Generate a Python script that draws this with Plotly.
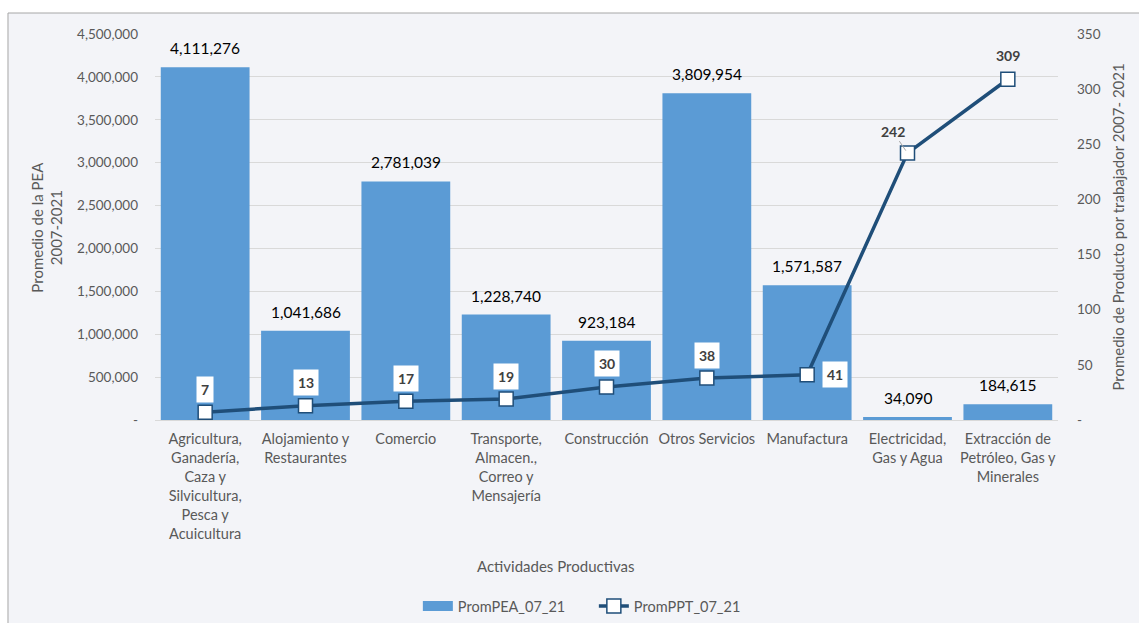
import plotly.graph_objects as go

# Activities and their averages 2007-2021
categorias = [
    "Agricultura", "Alojamiento", "Comercio", "Transporte", "Construcción",
    "Otros Servicios", "Manufactura", "Electricidad", "Extracción",
]
etiquetas_x = [
    "Agricultura,<br>Ganadería,<br>Caza y<br>Silvicultura,<br>Pesca y<br>Acuicultura",
    "Alojamiento y<br>Restaurantes",
    "Comercio",
    "Transporte,<br>Almacen.,<br>Correo y<br>Mensajería",
    "Construcción",
    "Otros Servicios",
    "Manufactura",
    "Electricidad,<br>Gas y Agua",
    "Extracción de<br>Petróleo, Gas y<br>Minerales",
]
prom_pea = [4111276, 1041686, 2781039, 1228740, 923184, 3809954, 1571587, 34090, 184615]
prom_ppt = [7, 13, 17, 19, 30, 38, 41, 242, 309]

ticks_pea = [0, 500000, 1000000, 1500000, 2000000, 2500000, 3000000, 3500000, 4000000, 4500000]
ticks_ppt = [0, 50, 100, 150, 200, 250, 300, 350]

FONT = "Lato, 'Open Sans', sans-serif"
GRIS = "#595959"
AZUL_BARRA = "#5b9bd5"
AZUL_LINEA = "#1f4e79"

fig = go.Figure()
fig.add_trace(go.Bar(
    x=categorias, y=prom_pea, name="PromPEA_07_21",
    marker=dict(color=AZUL_BARRA, line=dict(width=0)),
    yaxis="y", showlegend=False,
))
# legend swatch for the bars: a wide, flat block
fig.add_trace(go.Scatter(
    x=[None], y=[None], mode="lines", name="PromPEA_07_21",
    line=dict(color=AZUL_BARRA, width=10), yaxis="y",
))
fig.add_trace(go.Scatter(
    x=categorias, y=prom_ppt, name="PromPPT_07_21", mode="lines+markers",
    line=dict(color=AZUL_LINEA, width=3.5),
    marker=dict(symbol="square", size=14, color="white",
                line=dict(color=AZUL_LINEA, width=1.5)),
    yaxis="y2", cliponaxis=False,
))

anotaciones = []
# bar value labels
for c, v in zip(categorias, prom_pea):
    anotaciones.append(dict(
        x=c, y=v, xref="x", yref="y", text=f"{v:,}", showarrow=False,
        yanchor="bottom", yshift=8, font=dict(size=15.5, color="#000000", family=FONT),
    ))
# line value labels
for i, (c, v) in enumerate(zip(categorias, prom_ppt)):
    base = dict(x=c, y=v, xref="x", yref="y2", text=f"<b>{v}</b>",
                font=dict(size=14, color="#404040", family=FONT))
    if i < 6:
        base.update(showarrow=False, yshift=23, bgcolor="white", borderpad=4)
    elif i == 6:
        base.update(showarrow=False, xshift=28, bgcolor="white", borderpad=4)
    elif i == 7:
        base.update(showarrow=True, arrowhead=0, arrowwidth=1, arrowcolor="#a6a6a6",
                    ax=-15, ay=-22, standoff=3, startstandoff=0)
    else:
        base.update(showarrow=False, yshift=24)
    anotaciones.append(base)

# axis titles
anotaciones += [
    dict(x=0.444, y=-0.378, xref="paper", yref="paper", text="Actividades Productivas",
         xanchor="center", yanchor="middle",
         showarrow=False, font=dict(size=15, color=GRIS, family=FONT)),
    dict(x=-0.12, y=0.5, xref="paper", yref="paper", text="Promedio de la PEA<br>2007-2021",
         xanchor="center", yanchor="middle",
         textangle=-90, showarrow=False, font=dict(size=15, color=GRIS, family=FONT)),
    dict(x=1.066, y=0.5, xref="paper", yref="paper",
         text="Promedio de Producto por trabajador 2007- 2021",
         xanchor="center", yanchor="middle",
         textangle=-90, showarrow=False, font=dict(size=15, color=GRIS, family=FONT)),
]

fig.update_layout(
    width=1139, height=623,
    margin=dict(l=155, r=81, t=34, b=203, autoexpand=False),
    paper_bgcolor="white",
    plot_bgcolor="rgba(0,0,0,0)",
    font=dict(family=FONT, size=13, color=GRIS),
    bargap=0.115,
    showlegend=True,
    legend=dict(orientation="h", x=0.486, xanchor="center", y=-0.482, yanchor="middle",
                entrywidth=131, font=dict(size=14.5, color=GRIS), bgcolor="rgba(0,0,0,0)"),
    xaxis=dict(
        tickmode="array", tickvals=categorias, ticktext=etiquetas_x, automargin=False,
        range=[-0.5, len(categorias) - 0.5],
        showline=True, linecolor="#d9d9d9", linewidth=1, ticks="", ticklabelstandoff=6,
        tickfont=dict(size=14.5, color=GRIS), showgrid=False,
    ),
    yaxis=dict(
        range=[0, 4500000], tickmode="array", tickvals=ticks_pea, automargin=False,
        ticktext=["-" if t == 0 else f"{t:,}" for t in ticks_pea],
        showgrid=True, gridcolor="#d9d9d9", gridwidth=1, zeroline=False,
        ticks="", ticklabelstandoff=16, tickfont=dict(size=13.5, color=GRIS),
    ),
    yaxis2=dict(
        range=[0, 350], overlaying="y", side="right", tickmode="array", tickvals=ticks_ppt,
        ticktext=["-" if t == 0 else str(t) for t in ticks_ppt], automargin=False,
        showgrid=False, zeroline=False, ticks="", ticklabelstandoff=18,
        tickfont=dict(size=13.5, color=GRIS),
    ),
    annotations=anotaciones,
    shapes=[dict(type="rect", xref="paper", yref="paper", x0=-0.1628, x1=1.2, y0=-0.7, y1=1.0544,
                 fillcolor="#f3f4f8", line=dict(color="#a6a6a6", width=1), layer="below")],
)

fig.write_html("out.html")
